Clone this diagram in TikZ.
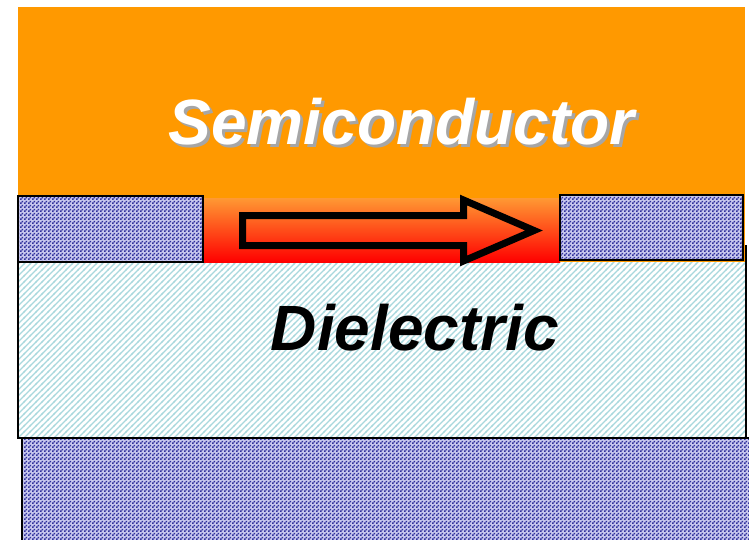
\documentclass[tikz,border=0pt]{standalone}
\usepackage{fontspec}
\newfontfamily\layerfont{Liberation Sans}
\usepackage{tikz}
\usetikzlibrary{patterns,calc}
\definecolor{semiorange}{HTML}{FF9900}
\definecolor{chantop}{HTML}{FF9933}
\definecolor{chanbot}{HTML}{FF0000}
\definecolor{metalblue}{HTML}{30309C}
\definecolor{metalback}{HTML}{C8C8EE}
\definecolor{dielteal}{HTML}{A8D8DD}
\definecolor{shadowgray}{HTML}{A6A6A6}
% small checks for the metal electrodes
\pgfdeclarepatternformonly{metalchecks}{\pgfpointorigin}{\pgfqpoint{4pt}{4pt}}{\pgfqpoint{4pt}{4pt}}{
  \pgfpathrectangle{\pgfpointorigin}{\pgfqpoint{2pt}{2pt}}
  \pgfpathrectangle{\pgfqpoint{2pt}{2pt}}{\pgfqpoint{2pt}{2pt}}
  \pgfusepath{fill}}
% thin diagonal hatch for the insulator
\pgfdeclarepatternformonly{dielhatch}{\pgfqpoint{-1pt}{-1pt}}{\pgfqpoint{7pt}{7pt}}{\pgfqpoint{6pt}{6pt}}{
  \pgfsetlinewidth{1.3pt}
  \pgfpathmoveto{\pgfqpoint{-1pt}{-1pt}}\pgfpathlineto{\pgfqpoint{7pt}{7pt}}
  \pgfusepath{stroke}}
\newcommand{\shadowtext}[1]{\makebox[0pt][l]{\hspace{3pt}\raisebox{-3pt}{\textcolor{shadowgray}{#1}}}#1}
\tikzset{
  metal/.style     = {draw=black, line width=2pt, preaction={fill=metalback}, pattern=metalchecks, pattern color=metalblue},
  insulator/.style = {draw=black, line width=2pt, preaction={fill=white}, pattern=dielhatch, pattern color=dielteal},
  layerlbl/.style  = {font=\layerfont\bfseries\itshape\fontsize{64}{70}\selectfont, inner sep=0pt},
  flowarrow/.style = {draw=black, line width=7pt, miter limit=20, line join=miter},
}
\begin{document}
\begin{tikzpicture}[x=1pt, y=-1pt]
  \useasboundingbox (0,0) rectangle (749,540);

  %% ---- dielectric and gate ---------------------------------------------------
  \draw[insulator] (18,246) rectangle (746,438);
  \draw[metal] (22,438) rectangle (760,560);

  %% ---- semiconductor and the channel at its bottom ----------------------------
  \fill[semiorange] (18,7) rectangle (745,262);
  \shade[top color=chantop, bottom color=chanbot] (203,198) rectangle (560,262);

  %% ---- source / drain contacts -----------------------------------------------
  \draw[metal] (18,196) rectangle (203,262);
  \draw[metal] (560,195) rectangle (743,260);

  %% ---- current arrow in the channel ------------------------------------------
  \draw[flowarrow] (242.5,215.5) -- (463.5,215.5) -- (463.5,200) -- (534,230.5)
    -- (463.5,261) -- (463.5,245.5) -- (242.5,245.5) -- cycle;

  %% ---- layer labels ----------------------------------------------------------
  \node[layerlbl, text=white] (semilbl) at (401.5,123.5) {\shadowtext{Semiconductor}};
  \node[layerlbl, text=black] (diellbl) at (415,328) {Dielectric};
\end{tikzpicture}
\end{document}
